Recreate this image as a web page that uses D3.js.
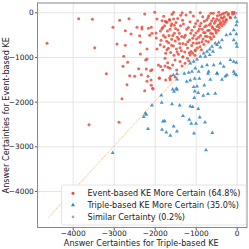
<!DOCTYPE html>
<html>
<head>
<meta charset="utf-8">
<script src="https://cdn.jsdelivr.net/npm/d3@7"></script>
<style>
  html, body { margin: 0; padding: 0; background: #fff; }
  svg { display: block; font-family: "DejaVu Sans", sans-serif; }
</style>
</head>
<body>
<div id="chart"></div>
<script>
// values: [triple-based, event-based]
const eventBased = [
  [-4626,-694],[-3854,-142],[-3520,-157],[-3463,-791],[-3179,-1373],[-3017,-336],[-2920,-709],[-2854,-179],
  [-2717,-412],[-2717,-738],[-2627,-143],[-2578,-485],[-3602,-2515],[-2870,-2463],[-2798,-1933],[-2676,-1620],
  [-2756,-984],[-2773,-1208],[-2659,-1119],[-2610,-1418],[-2488,-1432],[-2432,-336],[-2390,-1262],[-2366,-523],
  [-2351,-671],[-2351,-933],[-2327,-1396],[-2310,-329],[-2310,-374],[-2244,-38],[-2244,-1754],[-2205,-1268],
  [-2188,-821],[-2188,-1045],[-2188,-1544],[-2163,-1432],[-2122,-515],[-2083,-336],[-2083,-1633],[-2066,-1284],
  [-2041,-1716],[-2000,0],[-1961,-575],[-1944,-150],[-1944,-821],[-1888,-1470],[-1863,-725],[-1822,-367],
  [-1741,-201],[-1700,-224],[-1634,-179],[-1634,-1470],[-1620,-1508],[-1585,-255],[-1522,-291],[-1498,-1447],
  [-2220,-1067],[-2154,-358],[-2098,-1306],[-2089,-1515],[-2065,-470],[-2049,-1701],[-1967,-463],
  [-1862,-418],[-1846,-627],[-1821,-187],[-1805,-343],[-1789,-522],[-1772,-769],[-1748,-1030],[-1732,-918],
  [-1707,-649],[-1675,-1231],[-1667,-806],[-1650,-522],[-1626,-381],[-1585,-604],[-1577,-45],[-1545,-754],
  [-1520,-470],[-1480,-231],[-1455,-888],[-1431,-396],[-1415,-604],[-1382,-791],[-1366,-67],[-1333,-1201],
  [-1309,-701],[-1301,-261],[-1268,-888],[-1252,-515],[-1236,-60],[-1220,-381],[-1195,-657],[-1171,-1082],
  [-1154,-903],[-1138,-209],[-1122,-470],[-1098,-746],[-1073,-582],[-1057,-82],[-1033,-321],[-1016,-843],
  [-992,-463],[-976,-694],[-951,-187],[-927,-560],[-911,-373],[-894,-769],[-870,-246],[-846,-657],
  [-829,-97],[-805,-455],[-780,-321],[-764,-537],[-732,-172],[-707,-410],[-683,-75],[-667,-284],
  [-634,-470],[-610,-187],[-585,-358],[-569,-22],[-545,-246],[-512,-410],[-488,-149],[-447,-284],
  [-407,-60],[-390,-231],[-341,-134],[-309,-22],[-260,-172],[-211,-60],[-163,-112],[-106,0],[-57,-22],
  [-1911,-1179],[-1854,-1216],[-1805,-1291],[-1748,-1201],[-1683,-1127],[-1626,-1254],[-1561,-1179],[-1504,-1067],
  [-1463,-1291],[-1610,-1425],[-1886,-1478],[-1732,-1515],[-1382,-1104],[-1317,-993],[-1260,-1142],[-1203,-1030],
  [-1138,-955],[-1073,-918],[-1008,-858],
  [-1280,-560],[-1240,-720],[-1200,-800],[-1180,-340],[-1150,-620],[-1110,-880],[-1090,-400],[-1060,-690],
  [-1040,-520],[-1020,-960],[-1000,-250],[-980,-600],[-960,-800],[-940,-420],[-920,-680],[-900,-300],
  [-880,-520],[-860,-840],[-840,-380],[-820,-600],[-800,-720],[-790,-200],[-770,-460],[-750,-640],
  [-740,-300],[-720,-540],[-700,-120],[-690,-660],[-670,-400],[-650,-560],[-640,-250],[-620,-600],
  [-600,-320],[-590,-480],[-570,-140],[-560,-540],[-540,-380],[-520,-200],[-500,-460],[-480,-320],
  [-470,-80],[-450,-400],[-430,-180],[-420,-340],[-400,-260],[-380,-120],[-360,-300],[-350,-40],
  [-330,-200],[-320,-260],[-300,-100],[-280,-220],
  [-250,-160],[-200,-30],[-150,-120],[-100,-40],[-60,0],
  [-1780,-90],[-1760,-300],[-1740,-560],[-1720,-220],[-1700,-840],[-1690,-420],[-1660,-680],[-1640,-160],
  [-1610,-900],[-1600,-300],[-1590,-740],[-1560,-520],[-1540,-150],[-1530,-960],[-1500,-640],[-1490,-360],
  [-1470,-820],[-1450,-560],[-1440,-140],[-1420,-940],[-1400,-470],[-1390,-700],[-1370,-300],[-1350,-860],
  [-1340,-540],[-1320,-180],[-1310,-1000],
  [-1540,0],[-1330,-10],[-1130,0],[-890,-10],[-630,-20],[-440,0],[-250,0]
];

const tripleBased = [
  [-3024,-3147],[-2268,-2342],[-2228,-2261],[-2205,-2291],[-2163,-2611],[-2066,-2081],[-1839,-1857],[-1829,-2022],
  [-1822,-2626],[-1798,-2438],[-1756,-2433],[-1717,-2685],[-1620,-2761],[-1578,-2052],[-1537,-2550],[-1561,-1724],
  [-1528,-1776],[-1473,-1709],[-1545,-1403],[-1455,-1500],[-1456,-2662],[-1456,-1380],[-1454,-1732],[-1390,-2081],
  [-1310,-2320],[-1278,-1374],[-1220,-1552],[-1156,-2403],[-1132,-2103],[-1132,-1521],[-1107,-2492],[-1073,-2119],
  [-1049,-1671],[-1041,-2707],[-1034,-1917],[-1024,-1767],[-1024,-1485],[-993,-2492],[-968,-1655],[-937,-1805],
  [-937,-2163],[-912,-1485],[-902,-2349],[-815,-1866],[-790,-1633],[-773,-2461],[-749,-3082],[-700,-1828],
  [-700,-1374],[-644,-1508],[-595,-2700],[-522,-1821],[-480,-1374],[-359,-1508],[-278,-1432],[-49,-1380],
  [-34,-112],[7,-210],[-10,-284],[-73,-396],[-10,-486],[-156,-486],[-254,-508],[-73,-620],
  [-10,-694],[7,-769],[-359,-620],[-439,-680],[-522,-694],[-480,-731],[-602,-769],[-400,-783],
  [-659,-828],[-578,-881],[-724,-881],[-805,-918],[-766,-993],[-659,-955],[-888,-993],[-968,-1052],
  [-1049,-1105],[-1132,-1141],[-156,-1067],[-73,-1105],[-10,-1128],[-400,-1141],[-317,-1217],[-561,-1179],
  [-724,-1179],[-846,-1217],[-1010,-1253],[-1090,-1329],[-1171,-1351],[-927,-1329],[-683,-1329],[-480,-1365],
  [-73,-1329],[-10,-1403],[-237,-1403]
];

const similar = [[-15,-20]];

const xTicks = [-4000, -3000, -2000, -1000, 0];
const yTicks = [0, -1000, -2000, -3000, -4000];
const legendLabels = [
  "Event-based KE More Certain (64.8%)",
  "Triple-based KE More Certain (35.0%)",
  "Similar Certainty (0.2%)"
];
const colors = ["#e74c3c", "#2e86c1", "#a29bfe"];

const W = 249, H = 249;
const margin = {top: 3, right: 2, bottom: 21.5, left: 37.5};
const width = W - margin.left - margin.right;
const height = H - margin.top - margin.bottom;

const svg = d3.select("#chart")
  .append("svg")
  .attr("width", W)
  .attr("height", H);

const g = svg.append("g")
  .attr("transform", "translate(" + margin.left + "," + margin.top + ")");

const x = d3.scaleLinear().domain([-4858, 251]).range([0, width]);
const y = d3.scaleLinear().domain([-4817, 208]).range([height, 0]);

// grid
g.append("g")
  .attr("transform", "translate(0," + height + ")")
  .call(d3.axisBottom(x).tickValues(xTicks).tickSize(-height).tickFormat(""))
  .call(a => a.select(".domain").remove())
  .call(a => a.selectAll("line").attr("stroke", "#e3e3e3").attr("stroke-width", 0.9));
g.append("g")
  .call(d3.axisLeft(y).tickValues(yTicks).tickSize(-width).tickFormat(""))
  .call(a => a.select(".domain").remove())
  .call(a => a.selectAll("line").attr("stroke", "#e3e3e3").attr("stroke-width", 0.9));

// diagonal
g.append("line")
  .attr("x1", x(-4600)).attr("y1", y(-4600))
  .attr("x2", x(0)).attr("y2", y(0))
  .attr("stroke", "#ffa94d")
  .attr("stroke-opacity", 0.75)
  .attr("stroke-width", 1)
  .attr("stroke-dasharray", "1.2,0.8");

const tri = d3.symbol().type(d3.symbolTriangle).size(7);

g.selectAll(".triple")
  .data(tripleBased)
  .enter()
  .append("path")
  .attr("class", "triple")
  .attr("d", tri)
  .attr("transform", d => "translate(" + x(d[0]) + "," + y(d[1]) + ")")
  .attr("fill", colors[1])
  .attr("fill-opacity", 0.85);

g.selectAll(".event")
  .data(eventBased)
  .enter()
  .append("circle")
  .attr("class", "event")
  .attr("cx", d => x(d[0]))
  .attr("cy", d => y(d[1]))
  .attr("r", 1.5)
  .attr("fill", colors[0])
  .attr("fill-opacity", 0.85);

g.selectAll(".similar")
  .data(similar)
  .enter()
  .append("rect")
  .attr("class", "similar")
  .attr("x", d => x(d[0]) - 1.2)
  .attr("y", d => y(d[1]) - 1.2)
  .attr("width", 2.4)
  .attr("height", 2.4)
  .attr("fill", colors[2]);

// axes (matplotlib style minus sign)
const fmt = d => d < 0 ? "\u2212" + Math.abs(d) : String(d);
const xAxis = g.append("g")
  .attr("transform", "translate(0," + height + ")")
  .call(d3.axisBottom(x).tickValues(xTicks).tickFormat(fmt).tickSize(2.5).tickPadding(1.2));
const yAxis = g.append("g")
  .call(d3.axisLeft(y).tickValues(yTicks).tickFormat(fmt).tickSize(2.5).tickPadding(1.2));

[xAxis, yAxis].forEach(a => {
  a.select(".domain").remove();
  a.selectAll("line").attr("stroke", "#333").attr("stroke-width", 0.8);
  a.selectAll("text").attr("font-size", "7.4px").attr("fill", "#222")
    .attr("font-family", "DejaVu Sans");
});

// frame
g.append("rect")
  .attr("width", width)
  .attr("height", height)
  .attr("fill", "none")
  .attr("stroke", "#888")
  .attr("stroke-width", 1);

// axis labels
svg.append("text")
  .attr("x", margin.left + width / 2 - 1)
  .attr("y", H - 3.5)
  .attr("text-anchor", "middle")
  .attr("font-size", "8.1px")
  .attr("fill", "#222")
  .text("Answer Certainties for Triple-based KE");

svg.append("text")
  .attr("transform", "rotate(-90)")
  .attr("x", -(margin.top + height / 2))
  .attr("y", 9)
  .attr("text-anchor", "middle")
  .attr("font-size", "8.1px")
  .attr("fill", "#222")
  .text("Answer Certainties for Event-based KE");

// legend
const legend = svg.append("g")
  .attr("class", "legend")
  .attr("transform", "translate(61.5,185)");

legend.append("rect")
  .attr("width", 184.5)
  .attr("height", 40)
  .attr("rx", 2)
  .attr("fill", "#fff")
  .attr("fill-opacity", 0.8)
  .attr("stroke", "#ddd")
  .attr("stroke-width", 0.8);

legendLabels.forEach((label, i) => {
  const ly = 8.3 + i * 11.8;
  if (i === 0) {
    legend.append("circle").attr("cx", 11.5).attr("cy", ly).attr("r", 1.5).attr("fill", colors[0]);
  } else if (i === 1) {
    legend.append("path").attr("d", tri).attr("transform", "translate(11.5," + ly + ")").attr("fill", colors[1]);
  } else {
    legend.append("rect").attr("x", 10.3).attr("y", ly - 1.2).attr("width", 2.4).attr("height", 2.4).attr("fill", colors[2]);
  }
  legend.append("text")
    .attr("x", 26)
    .attr("y", ly)
    .attr("dy", "0.35em")
    .attr("font-size", "8.1px")
    .attr("fill", "#222")
    .text(label);
});
</script>
</body>
</html>
